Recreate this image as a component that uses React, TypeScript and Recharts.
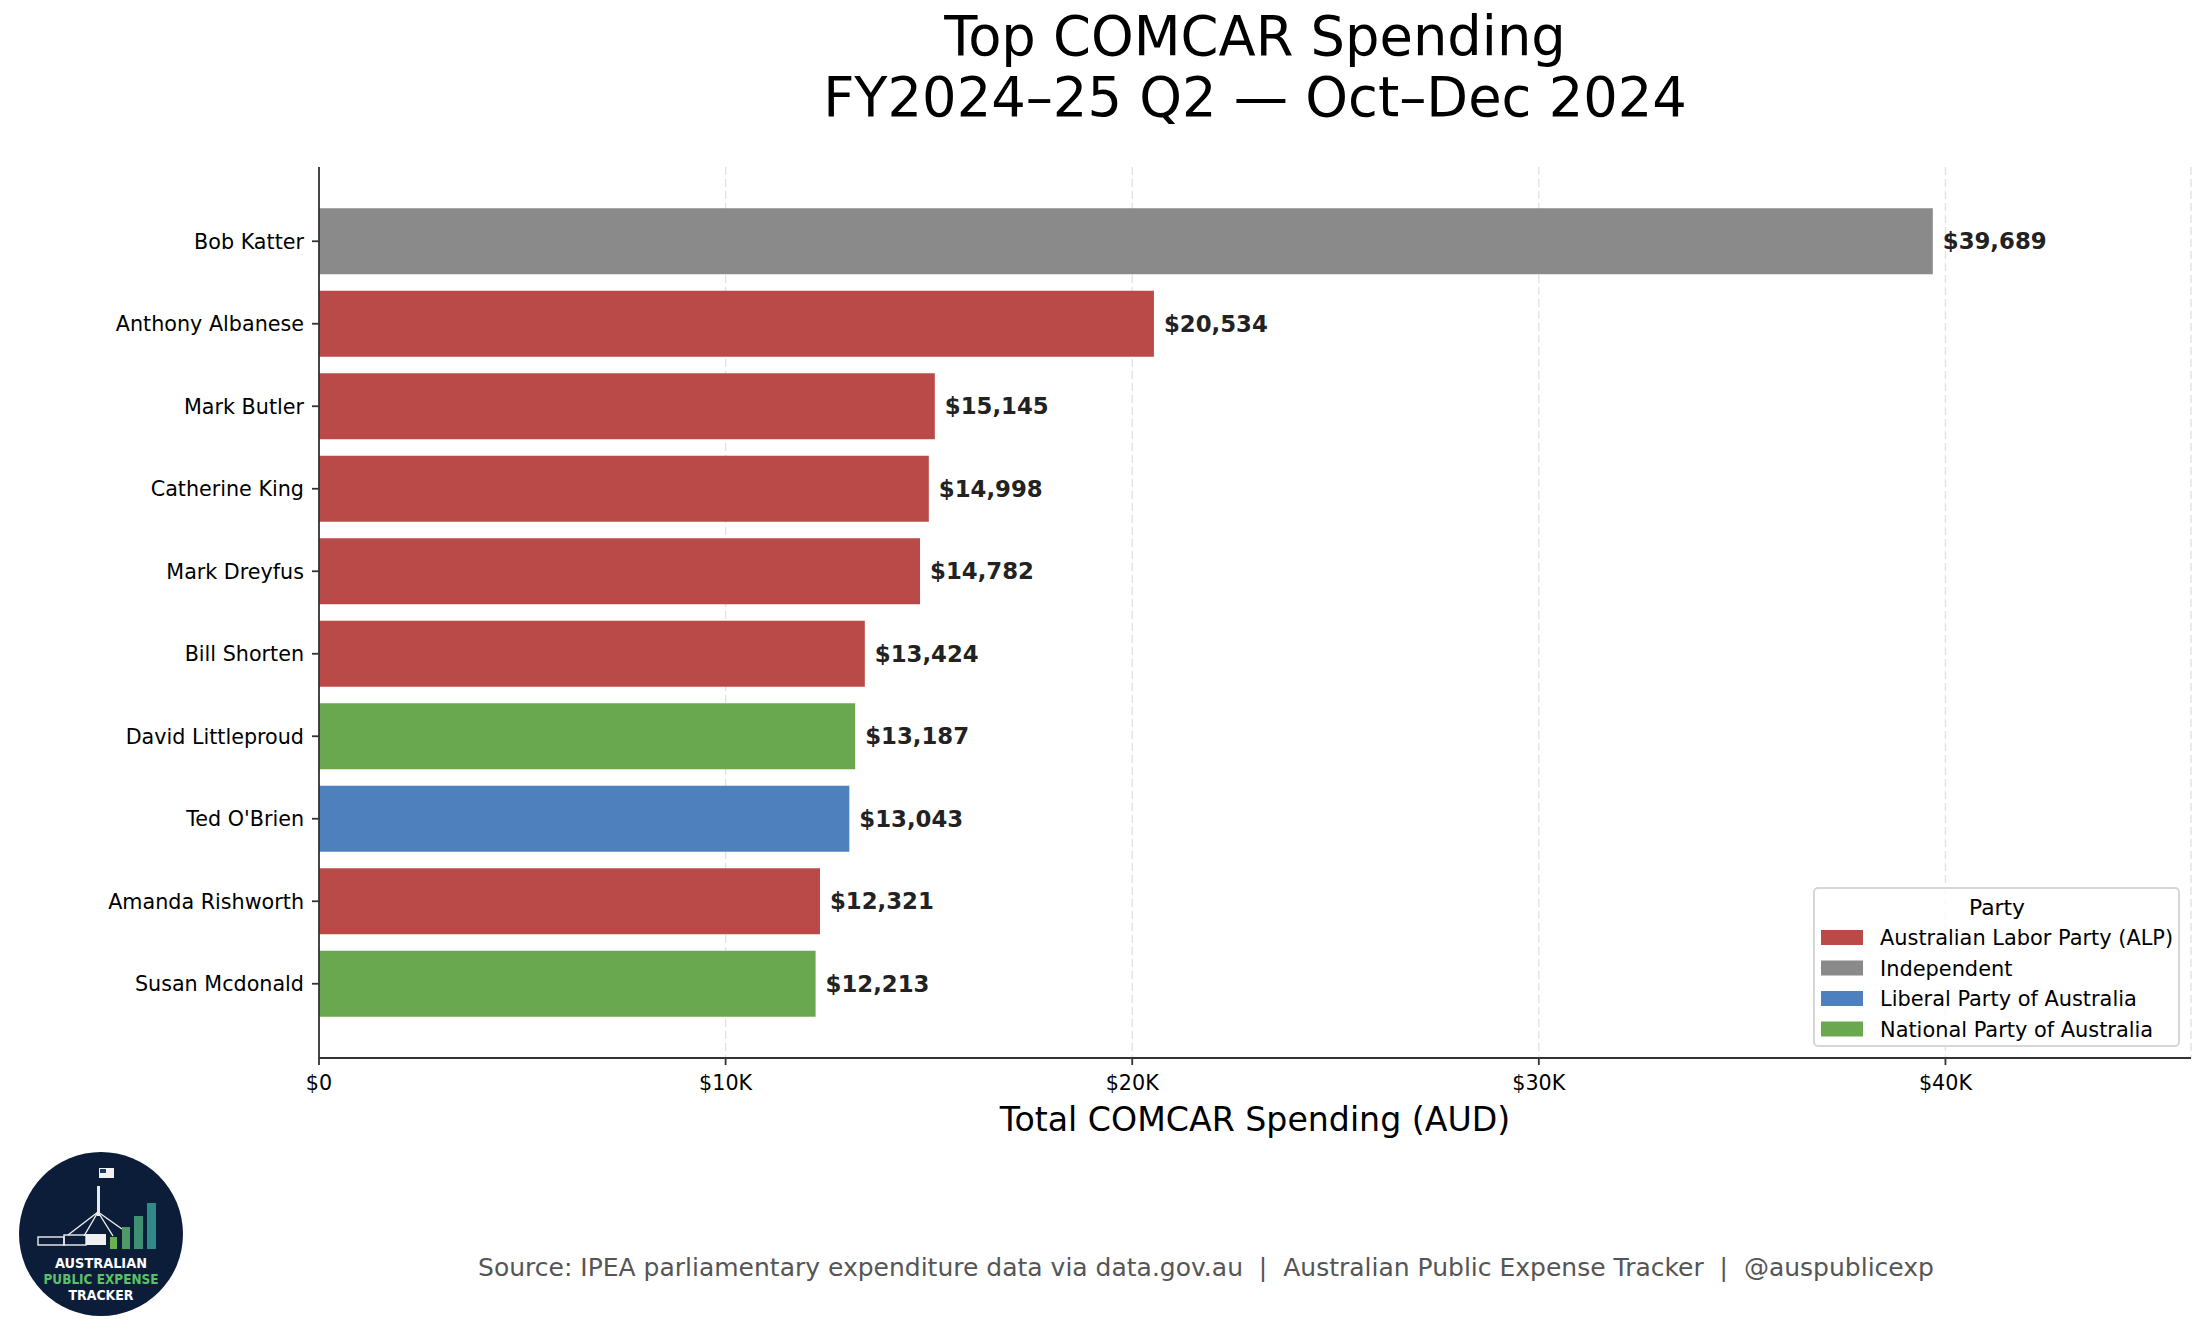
import React from "react";
import { Bar, BarChart, CartesianGrid, Cell, LabelList, Legend, XAxis, YAxis } from "recharts";

const MEMBERS = [
  "Bob Katter",
  "Anthony Albanese",
  "Mark Butler",
  "Catherine King",
  "Mark Dreyfus",
  "Bill Shorten",
  "David Littleproud",
  "Ted O'Brien",
  "Amanda Rishworth",
  "Susan Mcdonald",
];
const SPENDING = [39689, 20534, 15145, 14998, 14782, 13424, 13187, 13043, 12321, 12213];
const MEMBER_PARTY = [
  "Independent",
  "Australian Labor Party (ALP)",
  "Australian Labor Party (ALP)",
  "Australian Labor Party (ALP)",
  "Australian Labor Party (ALP)",
  "Australian Labor Party (ALP)",
  "National Party of Australia",
  "Liberal Party of Australia",
  "Australian Labor Party (ALP)",
  "National Party of Australia",
];
const PARTIES = [
  "Australian Labor Party (ALP)",
  "Independent",
  "Liberal Party of Australia",
  "National Party of Australia",
];
const PARTY_COLORS = ["#b94a48", "#8a8a8a", "#4d80bc", "#6aa84f"];
const X_TICKS = [0, 10000, 20000, 30000, 40000];

const FONT = "DejaVu Sans";
const W = 2205;
const H = 1337;

const data = MEMBERS.map((name, i) => ({
  name,
  total: SPENDING[i],
  party: MEMBER_PARTY[i],
}));

const colorFor = (party: string) => PARTY_COLORS[PARTIES.indexOf(party)];

const fmtTick = (v: number) => (v === 0 ? "$0" : `$${v / 1000}K`);
const fmtValue = (v: number) => `$${v.toLocaleString("en-US")}`;

// legend box drawn in svg so the text sits on fixed baselines
function PartyLegend() {
  return (
    <svg width={367} height={160} style={{ display: "block" }}>
      <rect x={1} y={1} width={365} height={158} rx={4} fill="#fff" fillOpacity={0.8} stroke="#d6d6d6" strokeWidth={2} />
      <text x={184} y={28} textAnchor="middle" fontFamily={FONT} fontSize={21.8} fill="#000">
        Party
      </text>
      {PARTIES.map((p, i) => (
        <g key={p}>
          <rect x={8} y={43 + i * 30.5} width={42} height={15} fill={PARTY_COLORS[i]} />
          <text x={67} y={58 + i * 30.5} fontFamily={FONT} fontSize={20.9} fill="#000">
            {p}
          </text>
        </g>
      ))}
    </svg>
  );
}

function Logo() {
  return (
    <g>
      <ellipse cx={101} cy={1234} rx={82} ry={82} fill="#0b1d38" />
      <rect x={97} y={1186} width={3} height={30} fill="#e8e8e8" />
      <rect x={99} y={1168} width={15} height={10} fill="#f2f2f2" />
      <rect x={100} y={1169} width={6} height={4} fill="#1b3a6b" />
      <g stroke="#f0f0f0" strokeWidth={1.4}>
        <line x1={98} y1={1212} x2={68} y2={1235} />
        <line x1={98} y1={1212} x2={84} y2={1236} />
        <line x1={98} y1={1212} x2={113} y2={1236} />
        <line x1={98} y1={1212} x2={122} y2={1229} />
      </g>
      <rect x={38} y={1237} width={26} height={8} fill="none" stroke="#f0f0f0" strokeWidth={1.4} />
      <rect x={64} y={1235} width={22} height={10} fill="none" stroke="#f0f0f0" strokeWidth={1.4} />
      <rect x={86} y={1234} width={20} height={11} fill="#f0f0f0" />
      <rect x={110} y={1237} width={7} height={12} fill="#6ab04c" />
      <rect x={122} y={1227} width={8} height={22} fill="#4f9a66" />
      <rect x={134} y={1216} width={9} height={33} fill="#3f9072" />
      <rect x={147} y={1203} width={9} height={46} fill="#2f8a88" />
      <text x={101} y={1268} textAnchor="middle" fontFamily={FONT} fontWeight="bold" fontSize={13.5} fill="#fff" textLength={92} lengthAdjust="spacingAndGlyphs">
        AUSTRALIAN
      </text>
      <text x={101} y={1284} textAnchor="middle" fontFamily={FONT} fontWeight="bold" fontSize={13.5} fill="#5cc06a" textLength={115} lengthAdjust="spacingAndGlyphs">
        PUBLIC EXPENSE
      </text>
      <text x={101} y={1300} textAnchor="middle" fontFamily={FONT} fontWeight="bold" fontSize={13.5} fill="#fff" textLength={65} lengthAdjust="spacingAndGlyphs">
        TRACKER
      </text>
    </g>
  );
}

export default function App() {
  return (
    <div style={{ position: "absolute", left: 0, top: 0, width: W, height: H, background: "#fff", fontFamily: FONT }}>
      <BarChart
        width={W}
        height={H}
        data={data}
        layout="vertical"
        margin={{ top: 167, right: 14, bottom: 239, left: 0 }}
        barCategoryGap="10%"
      >
        <CartesianGrid horizontal={false} stroke="#e2e2e2" strokeDasharray="8 4" strokeWidth={1.4} />
        <XAxis
          type="number"
          dataKey="total"
          domain={[0, Math.max(...SPENDING) * 1.16]}
          ticks={X_TICKS}
          tickFormatter={fmtTick}
          height={40}
          tickSize={7}
          tickMargin={10}
          stroke="#333"
          strokeWidth={1.8}
          tick={{ fontFamily: FONT, fontSize: 20.7, fill: "#000" }}
        />
        <YAxis
          type="category"
          dataKey="name"
          width={319}
          tickSize={7}
          tickMargin={8}
          padding={{ top: 33, bottom: 33 }}
          stroke="#333"
          strokeWidth={1.8}
          interval={0}
          tick={{ fontFamily: FONT, fontSize: 20.7, fill: "#000" }}
        />
        <Legend
          layout="horizontal"
          align="center"
          verticalAlign="middle"
          wrapperStyle={{ left: 1813, top: 887, width: 367, height: 160 }}
          content={() => <PartyLegend />}
        />
        <Bar dataKey="total" isAnimationActive={false}>
          {data.map((d) => (
            <Cell key={d.name} fill={colorFor(d.party)} />
          ))}
          <LabelList
            dataKey="total"
            position="right"
            offset={10}
            formatter={(v: number) => fmtValue(v)}
            style={{ fontFamily: FONT, fontWeight: "bold", fontSize: 22.8, fill: "#222" }}
          />
        </Bar>
      </BarChart>
      <svg width={W} height={H} style={{ position: "absolute", left: 0, top: 0, pointerEvents: "none" }}>
        <text x={1255} y={55} textAnchor="middle" fontFamily={FONT} fontSize={54.3} fill="#000">
          Top COMCAR Spending
        </text>
        <text x={1255} y={116} textAnchor="middle" fontFamily={FONT} fontSize={54.3} fill="#000">
          FY2024–25 Q2 — Oct–Dec 2024
        </text>
        <text x={1255} y={1131} textAnchor="middle" fontFamily={FONT} fontSize={33.2} fill="#000">
          Total COMCAR Spending (AUD)
        </text>
        <text x={1206} y={1276} textAnchor="middle" fontFamily={FONT} fontSize={25} fill="#555" style={{ whiteSpace: "pre" }}>
          {"Source: IPEA parliamentary expenditure data via data.gov.au  |  Australian Public Expense Tracker  |  @auspublicexp"}
        </text>
        <Logo />
      </svg>
    </div>
  );
}
